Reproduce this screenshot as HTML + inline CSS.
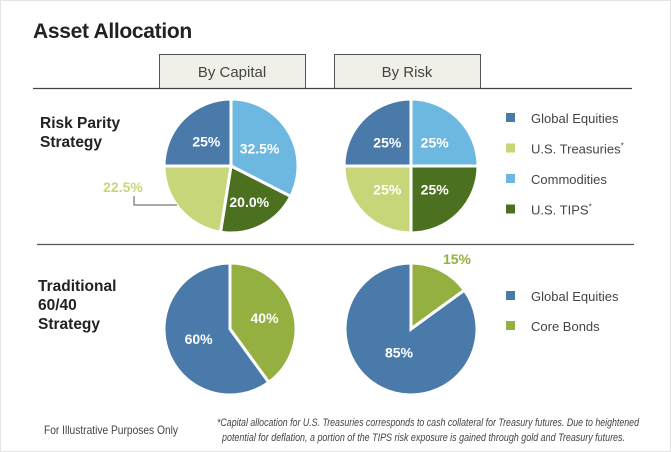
<!DOCTYPE html>
<html><head><meta charset="utf-8"><style>
body{margin:0;background:#fff}
svg{display:block;font-family:"Liberation Sans",sans-serif}
</style></head><body>
<svg width="671" height="452" viewBox="0 0 671 452">
<rect x="0.5" y="0.5" width="670" height="451" fill="#fff" stroke="#e4e4e4"/>
<text x="33" y="38" font-size="21" font-weight="bold" fill="#222" letter-spacing="-0.3">Asset Allocation</text>
<rect x="159.5" y="54.5" width="146" height="34" fill="#f0f0e8" stroke="#555"/>
<text x="232" y="77" font-size="15" text-anchor="middle" fill="#444">By Capital</text>
<rect x="334.5" y="54.5" width="146" height="34" fill="#f0f0e8" stroke="#555"/>
<text x="407" y="77" font-size="15" text-anchor="middle" fill="#444">By Risk</text>
<line x1="33" y1="88.5" x2="632" y2="88.5" stroke="#444" stroke-width="1.2"/>
<line x1="37" y1="244.5" x2="634" y2="244.5" stroke="#555" stroke-width="1.2"/>
<text font-size="15.5" font-weight="bold" fill="#222"><tspan x="40" y="128">Risk Parity</tspan><tspan x="40" y="147">Strategy</tspan></text>
<text font-size="15.5" font-weight="bold" fill="#222"><tspan x="38" y="291">Traditional</tspan><tspan x="38" y="310">60/40</tspan><tspan x="38" y="329">Strategy</tspan></text>
<g id="pies"></g>
<g id="legend"></g>
<polyline points="134,196 134,205 177,205" fill="none" stroke="#555" stroke-width="1"/>
<text x="44" y="434" font-size="12" fill="#444" textLength="134" lengthAdjust="spacingAndGlyphs">For Illustrative Purposes Only</text>
<text font-size="11" font-style="italic" fill="#444"><tspan x="217" y="426" textLength="422" lengthAdjust="spacingAndGlyphs">*Capital allocation for U.S. Treasuries corresponds to cash collateral for  Treasury futures. Due to heightened</tspan><tspan x="222" y="441" textLength="403" lengthAdjust="spacingAndGlyphs">potential for deflation, a portion  of the TIPS risk exposure is gained through gold and Treasury futures.</tspan></text>
</svg>
<script>
const capitalLabels = ["Commodities","U.S. TIPS","U.S. Treasuries","Global Equities"];
const capitalValues = [32.5, 20.0, 22.5, 25];
const capitalText = ["32.5%","20.0%","22.5%","25%"];
const riskValues = [25, 25, 25, 25];
const riskText = ["25%","25%","25%","25%"];
const tradLabels = ["Core Bonds","Global Equities"];
const tradCapitalValues = [40, 60];
const tradCapitalText = ["40%","60%"];
const tradRiskValues = [15, 85];
const tradRiskText = ["15%","85%"];
const legend1 = ["Global Equities","U.S. Treasuries*","Commodities","U.S. TIPS*"];
const legend2 = ["Global Equities","Core Bonds"];

const COL = {"Global Equities":"#4a7aaa","U.S. Treasuries":"#c8d67a","Commodities":"#6cb8e0","U.S. TIPS":"#4a7020","Core Bonds":"#94b040"};
const NS = "http://www.w3.org/2000/svg";
const gp = document.getElementById('pies');
function pt(cx,cy,r,a){const t=(a-90)*Math.PI/180;return [cx+r*Math.cos(t),cy+r*Math.sin(t)];}
function pie(cx,cy,r,labels,values,texts,name,opts){
  const tot=values.reduce((a,b)=>a+b,0);let a0=0;
  values.forEach((v,i)=>{
    const a1=a0+v/tot*360;
    const p0=pt(cx,cy,r,a0),p1=pt(cx,cy,r,a1);
    const path=document.createElementNS(NS,'path');
    path.setAttribute('d',`M${cx},${cy}L${p0[0]},${p0[1]}A${r},${r} 0 ${a1-a0>180?1:0} 1 ${p1[0]},${p1[1]}Z`);
    path.setAttribute('fill',COL[labels[i]]);path.setAttribute('stroke','#fff');path.setAttribute('stroke-width','3');
    
    
    gp.appendChild(path);
    const mid=(a0+a1)/2;
    let lp, fill='#fff';
    const o=opts[i]||{};
    if(o.out){lp=o.pos;fill=o.color;}else{lp=pt(cx,cy,r*(o.k||0.5),mid);}
    const t=document.createElementNS(NS,'text');
    t.setAttribute('x',lp[0]);t.setAttribute('y',lp[1]+5);t.setAttribute('text-anchor','middle');
    t.setAttribute('font-size','14');t.setAttribute('font-weight','bold');t.setAttribute('fill',fill);
    
    
    t.textContent=texts[i];gp.appendChild(t);
    a0=a1;
  });
}
pie(231,166,67,capitalLabels,capitalValues,capitalText,'capital-pie',{2:{out:true,pos:[123,187],color:'#c8d67a'},1:{k:0.6},3:{k:0.52}});
pie(411,166,67,capitalLabels,riskValues,riskText,'risk-pie',{});
pie(230,329,66,tradLabels,tradCapitalValues,tradCapitalText,'trad-capital-pie',{0:{k:0.55},1:{k:0.5}});
pie(411,329,66,tradLabels,tradRiskValues,tradRiskText,'trad-risk-pie',{0:{out:true,pos:[457,259],color:'#94b040'},1:{k:0.4}});
const gl=document.getElementById('legend');
function legend(items,y0,dy,name){
  items.forEach((s,i)=>{
    const key=s.replace('*','');const y=y0+i*dy;
    const r=document.createElementNS(NS,'rect');
    r.setAttribute('x',506);r.setAttribute('y',y-5);r.setAttribute('width',9);r.setAttribute('height',9);r.setAttribute('fill',COL[key]);
    
    
    gl.appendChild(r);
    const t=document.createElementNS(NS,'text');
    t.setAttribute('x',531);t.setAttribute('y',y+5);t.setAttribute('font-size','13');t.setAttribute('fill','#444');
    
    
    t.textContent=key;
    if(s.endsWith('*')){const sp=document.createElementNS(NS,'tspan');sp.setAttribute('font-size','8');sp.setAttribute('dy','-5');sp.textContent='*';t.appendChild(sp);}
    gl.appendChild(t);
  });
}
legend(legend1,118,30.5,'risk-parity-legend');
legend(legend2,296,30,'traditional-legend');
</script>
</body></html>
